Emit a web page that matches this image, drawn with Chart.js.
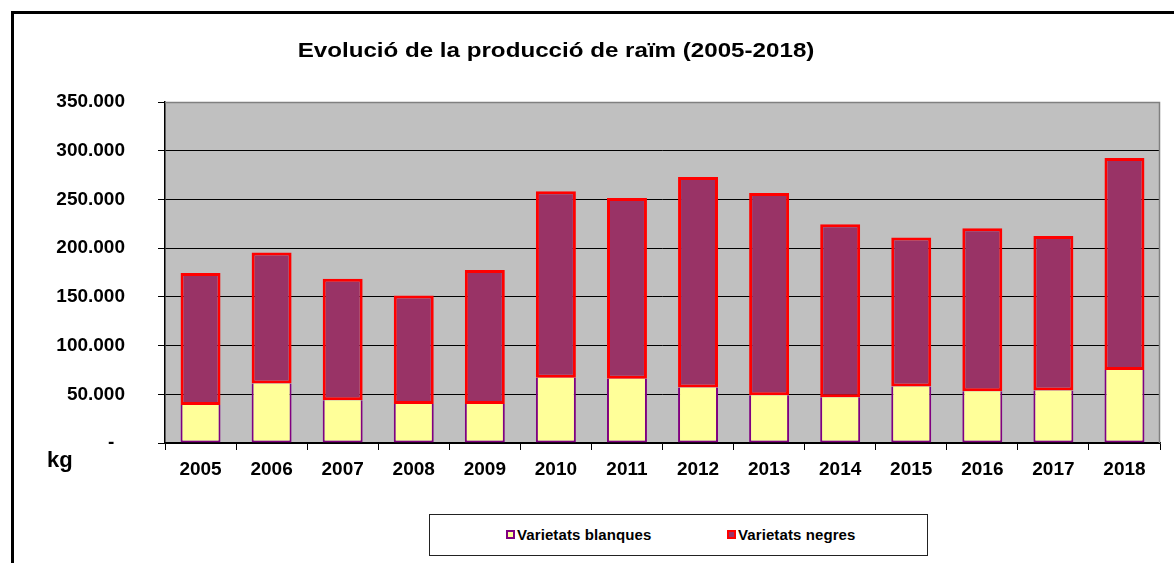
<!DOCTYPE html>
<html>
<head>
<meta charset="utf-8">
<script src="https://cdn.jsdelivr.net/npm/chart.js@4/dist/chart.umd.min.js"></script>
<style>
  body { margin: 0; background: #fff; font-family: Arial, "Liberation Sans", sans-serif; }
  #wrap { position: relative; width: 1174px; height: 563px; overflow: hidden; }
  #frame { position: absolute; left: 11px; top: 11px; width: 1300px; height: 700px;
           border-left: 3px solid #000; border-top: 3px solid #000; }
  #chart { position: absolute; left: 0; top: 0; }
  #title { position: absolute; left: 256px; width: 600px; top: 37px; text-align: center;
           font-weight: bold; font-size: 21px; line-height: 26px; color: #000;
           transform: scaleX(1.15); transform-origin: 300px 0; }
  #unit { position: absolute; left: 47px; top: 447px; font-weight: bold; font-size: 22px; color: #000; }
  #legend { position: absolute; left: 429px; top: 514px; width: 497px; height: 40px;
            border: 1.5px solid #222; background: #fff; }
  .item { position: absolute; top: 11px; font-weight: bold; font-size: 15px; line-height: 18px;
          color: #000; white-space: nowrap; letter-spacing: 0.1px; }
  .item i { display: inline-block; width: 5px; height: 5px; border: 2px solid; margin-right: 2px;
            vertical-align: 1px; }
</style>
</head>
<body>
<div id="wrap">
  <div id="frame"></div>
  <canvas id="chart" width="1174" height="563"></canvas>
  <div id="title">Evolució de la producció de raïm (2005-2018)</div>
  <div id="unit">kg</div>
  <div id="legend"></div>
</div>
<script>
const years = ['2005', '2006', '2007', '2008', '2009', '2010', '2011', '2012', '2013', '2014', '2015', '2016', '2017', '2018'];
const blanques = [39000, 61000, 44000, 40000, 40000, 67000, 66000, 57000, 49000, 47000, 58000, 53000, 54000, 75000];
const negres = [135500, 134500, 124500, 111500, 137500, 191500, 185500, 216000, 207500, 177500, 153000, 167500, 158500, 217500];
const seriesNames = ['Varietats blanques', 'Varietats negres'];
const yMax = 350000;
const yStep = 50000;

// 350000 -> "350.000", 0 -> "-"
let fmt = (v) => v === 0 ? '-  ' : String(v).replace(/\B(?=(\d{3})+(?!\d))/g, '.');

const plotBg = {
  id: 'plotBg',
  beforeDraw(chart) {
    const { ctx, chartArea: a } = chart;
    ctx.save();
    ctx.fillStyle = '#c0c0c0';
    ctx.fillRect(a.left, a.top, a.right - a.left, a.bottom - a.top);
    ctx.restore();
  },
  afterDraw(chart) {
    const { ctx, chartArea: a } = chart;
    ctx.save();
    ctx.strokeStyle = '#808080';
    ctx.lineWidth = 1.5;
    ctx.beginPath();
    ctx.moveTo(a.left, a.top + 0.5);
    ctx.lineTo(a.right - 0.5, a.top + 0.5);
    ctx.lineTo(a.right - 0.5, a.bottom);
    ctx.stroke();
    ctx.restore();
  }
};

const tickFont = { family: 'Arial, "Liberation Sans", sans-serif', size: 19, weight: 'bold' };

const chart = new Chart(document.getElementById('chart'), {
  type: 'bar',
  data: {
    labels: years,
    datasets: [{
      label: seriesNames[0],
      data: blanques,
      backgroundColor: '#ffff99',
      borderColor: '#800080',
      borderWidth: 2,
      borderSkipped: 'top',
    }, {
      label: seriesNames[1],
      data: negres,
      backgroundColor: '#993366',
      borderColor: '#ff0000',
      borderWidth: 3,
      borderSkipped: false,
    }],
  },
  options: {
    responsive: false,
    animation: false,
    devicePixelRatio: 1,
    layout: { padding: { left: 0, top: 102, right: 14, bottom: 80 } },
    categoryPercentage: 1,
    barPercentage: 0.5625,
    plugins: { legend: { display: false }, title: { display: false }, tooltip: { enabled: false } },
    scales: {
      x: {
        stacked: true,
        afterFit: (s) => { s.height = 40; },
        grid: { drawOnChartArea: false, drawTicks: true, tickLength: 7, color: '#000' },
        border: { display: true, color: '#000', width: 1.5 },
        ticks: { font: tickFont, color: '#000', padding: 8, maxRotation: 0, autoSkip: false },
      },
      y: {
        stacked: true,
        min: 0,
        max: yMax,
        afterFit: (s) => { s.width = 165; },
        grid: { color: '#000', lineWidth: 1, tickLength: 7 },
        border: { display: true, color: '#000', width: 1.5 },
        ticks: { stepSize: yStep, font: tickFont, color: '#000', padding: 33, callback: fmt },
      },
    },
  },
  plugins: [plotBg],
});

// legend built from the datasets
let legend = document.getElementById('legend');
let lefts = [76, 297];
legend.innerHTML = chart.data.datasets.map((d, i) =>
  `<span class="item" style="left:${lefts[i]}px"><i style="background:${d.backgroundColor};border-color:${d.borderColor}"></i>${d.label}</span>`
).join('');
</script>
</body>
</html>
